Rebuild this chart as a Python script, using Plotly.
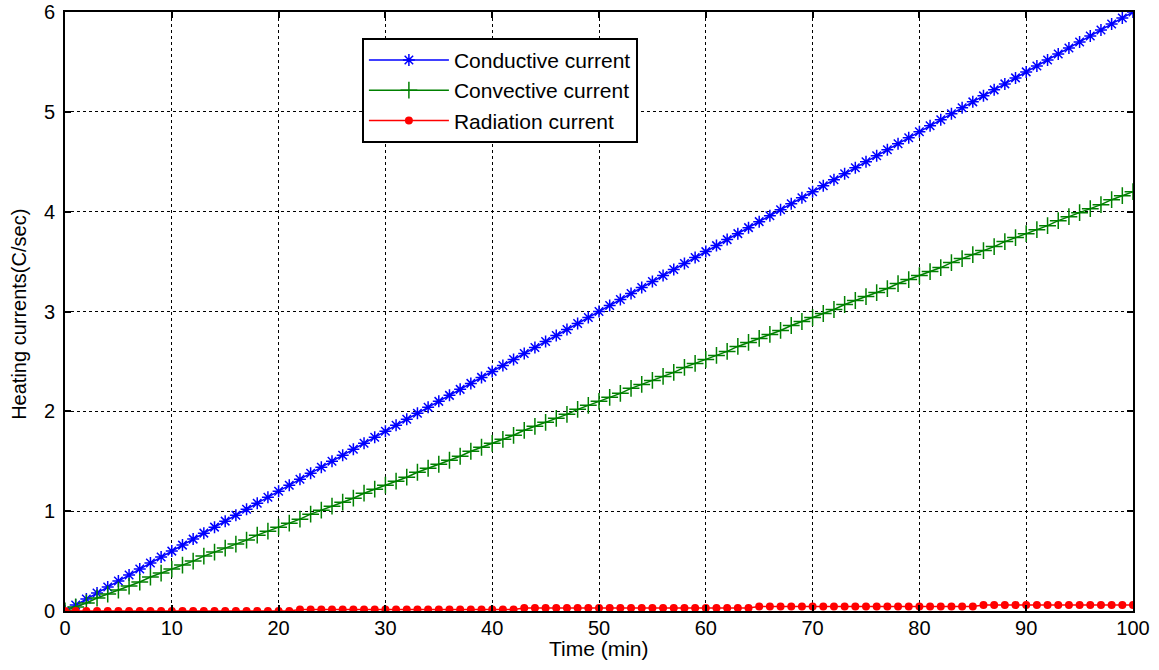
import plotly.graph_objects as go

time_min = list(range(0, 101))

conductive = [0.00, 0.06, 0.12, 0.18, 0.24, 0.30, 0.36, 0.42, 0.48, 0.54,
              0.60, 0.66, 0.72, 0.78, 0.84, 0.90, 0.96, 1.02, 1.08, 1.14,
              1.20, 1.26, 1.32, 1.38, 1.44, 1.50, 1.56, 1.62, 1.68, 1.74,
              1.80, 1.86, 1.92, 1.98, 2.04, 2.10, 2.16, 2.22, 2.28, 2.34,
              2.40, 2.46, 2.52, 2.58, 2.64, 2.70, 2.76, 2.82, 2.88, 2.94,
              3.00, 3.06, 3.12, 3.18, 3.24, 3.30, 3.36, 3.42, 3.48, 3.54,
              3.60, 3.66, 3.72, 3.78, 3.84, 3.90, 3.96, 4.02, 4.08, 4.14,
              4.20, 4.26, 4.32, 4.38, 4.44, 4.50, 4.56, 4.62, 4.68, 4.74,
              4.80, 4.86, 4.92, 4.98, 5.04, 5.10, 5.16, 5.22, 5.28, 5.34,
              5.40, 5.46, 5.52, 5.58, 5.64, 5.70, 5.76, 5.82, 5.88, 5.94,
              6.00]

convective = [0.00, 0.04, 0.08, 0.13, 0.17, 0.21, 0.25, 0.29, 0.34, 0.38,
              0.42, 0.46, 0.50, 0.55, 0.59, 0.63, 0.67, 0.71, 0.76, 0.80,
              0.84, 0.88, 0.92, 0.97, 1.01, 1.05, 1.09, 1.13, 1.18, 1.22,
              1.26, 1.30, 1.34, 1.39, 1.43, 1.47, 1.51, 1.55, 1.60, 1.64,
              1.68, 1.72, 1.76, 1.81, 1.85, 1.89, 1.93, 1.97, 2.02, 2.06,
              2.10, 2.14, 2.18, 2.23, 2.27, 2.31, 2.35, 2.39, 2.44, 2.48,
              2.52, 2.56, 2.60, 2.65, 2.69, 2.73, 2.77, 2.81, 2.86, 2.90,
              2.94, 2.98, 3.02, 3.07, 3.11, 3.15, 3.19, 3.23, 3.28, 3.32,
              3.36, 3.40, 3.44, 3.49, 3.53, 3.57, 3.61, 3.65, 3.70, 3.74,
              3.78, 3.82, 3.86, 3.91, 3.95, 3.99, 4.03, 4.07, 4.12, 4.16,
              4.20]

radiation = [0.000, 0.000, 0.000, 0.000, 0.000, 0.000, 0.000, 0.000, 0.000, 0.000,
             0.000, 0.000, 0.000, 0.000, 0.000, 0.000, 0.000, 0.000, 0.000, 0.000,
             0.000, 0.000, 0.015, 0.015, 0.015, 0.015, 0.015, 0.015, 0.015, 0.015,
             0.015, 0.015, 0.015, 0.015, 0.015, 0.015, 0.015, 0.015, 0.015, 0.015,
             0.015, 0.015, 0.015, 0.030, 0.030, 0.030, 0.030, 0.030, 0.030, 0.030,
             0.030, 0.030, 0.030, 0.030, 0.030, 0.030, 0.030, 0.030, 0.030, 0.030,
             0.030, 0.030, 0.030, 0.030, 0.030, 0.045, 0.045, 0.045, 0.045, 0.045,
             0.045, 0.045, 0.045, 0.045, 0.045, 0.045, 0.045, 0.045, 0.045, 0.045,
             0.045, 0.045, 0.045, 0.045, 0.045, 0.045, 0.060, 0.060, 0.060, 0.060,
             0.060, 0.060, 0.060, 0.060, 0.060, 0.060, 0.060, 0.060, 0.060, 0.060,
             0.060]

x_ticks = [0, 10, 20, 30, 40, 50, 60, 70, 80, 90, 100]
y_ticks = [0, 1, 2, 3, 4, 5, 6]
x_title = "Time (min)"
y_title = "Heating currents(C/sec)"

FONT = "Liberation Sans, Arial, sans-serif"

fig = go.Figure()
fig.add_trace(go.Scatter(
    x=time_min, y=conductive, name="Conductive current", mode="lines+markers",
    line=dict(color="#0000ff", width=1.5),
    marker=dict(symbol="asterisk-open", size=10, color="#0000ff",
                line=dict(color="#0000ff", width=1.5))))
fig.add_trace(go.Scatter(
    x=time_min, y=convective, name="Convective current", mode="lines+markers",
    line=dict(color="#008000", width=1.5),
    marker=dict(symbol="cross-thin-open", size=12, color="#008000",
                line=dict(color="#008000", width=1.5))))
fig.add_trace(go.Scatter(
    x=time_min, y=radiation, name="Radiation current", mode="lines+markers",
    line=dict(color="#ff0000", width=1.5),
    marker=dict(symbol="circle", size=8, color="#ff0000")))

axis_common = dict(
    showline=True, linecolor="black", linewidth=2, mirror="ticks",
    ticks="inside", ticklen=6, tickcolor="black", tickwidth=1.5,
    showgrid=True, gridcolor="black", gridwidth=1, griddash="dot",
    zeroline=False, automargin=False,
    tickfont=dict(family=FONT, size=20, color="black"),
)

fig.update_xaxes(range=[0, 100], tickvals=x_ticks, ticklabelstandoff=-2, **axis_common)
fig.update_yaxes(range=[0, 6], tickvals=y_ticks, ticklabelstandoff=4, **axis_common)

fig.add_annotation(text=x_title, xref="paper", yref="paper", x=0.5, y=-0.063,
                   xanchor="center", yanchor="middle", showarrow=False,
                   font=dict(family=FONT, size=21, color="black"))
fig.add_annotation(text=y_title, xref="paper", yref="paper", x=-0.0431, y=0.496,
                   xanchor="center", yanchor="middle", showarrow=False, textangle=-90,
                   font=dict(family=FONT, size=20, color="black"))

fig.update_layout(
    width=1159, height=670,
    margin=dict(l=65, r=26, t=12, b=59),
    paper_bgcolor="white", plot_bgcolor="white",
    showlegend=True,
    legend=dict(x=0.278, y=0.957, xanchor="left", yanchor="top",
                bgcolor="white", bordercolor="black", borderwidth=2,
                font=dict(family=FONT, size=21, color="black"),
                itemwidth=80, tracegroupgap=0),
)

fig.write_html("out.html", config={"displayModeBar": False},
               post_script="document.body.style.margin='0';")
